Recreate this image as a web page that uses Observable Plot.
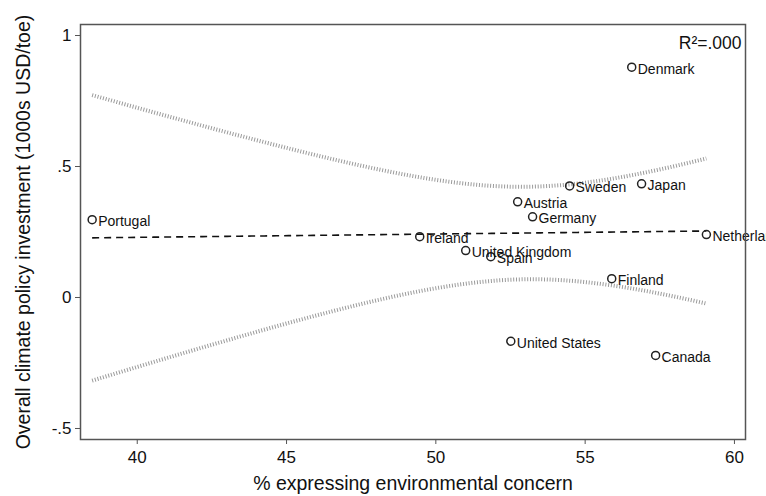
<!DOCTYPE html>
<html>
<head>
<meta charset="utf-8">
<script src="https://cdn.jsdelivr.net/npm/d3@7"></script>
<script src="https://cdn.jsdelivr.net/npm/@observablehq/plot@0.6"></script>
<style>
  html, body { margin: 0; padding: 0; background: #fff; }
  #chart { width: 766px; height: 496px; }
</style>
</head>
<body>
<div id="chart"></div>
<script>
const countries = ["Portugal","Denmark","Sweden","Japan","Austria","Germany","Ireland","United Kingdom","Spain","United States","Canada","Netherlands","Finland"];
const concern   = [38.49, 56.56, 54.48, 56.89, 52.74, 53.24, 49.46, 51.00, 51.84, 52.51, 57.36, 59.06, 55.89];
const investment= [0.297, 0.879, 0.426, 0.434, 0.365, 0.308, 0.232, 0.179, 0.156, -0.167, -0.221, 0.240, 0.072];
const xTicks = [40, 45, 50, 55, 60];
const yTicks = [-0.5, 0, 0.5, 1];
const yTickLabels = ["-.5", "0", ".5", "1"];
const r2Label = "R\u00B2=.000";

const data = countries.map((c, i) => ({country: c, x: concern[i], y: investment[i]}));

// OLS fit with 95% confidence band of the mean
const n = data.length;
const mx = d3.mean(concern), my = d3.mean(investment);
const sxx = d3.sum(concern, v => (v - mx) ** 2);
const sxy = d3.sum(data, d => (d.x - mx) * (d.y - my));
const b = sxy / sxx, a = my - b * mx;
const sse = d3.sum(data, d => (d.y - (a + b * d.x)) ** 2);
const s = Math.sqrt(sse / (n - 2));
const t = 2.201; // t(0.975, 11)
const [xmin, xmax] = d3.extent(concern);
const fit = d3.range(0, 101).map(k => {
  const x = xmin + (xmax - xmin) * k / 100;
  const yh = a + b * x;
  const se = s * Math.sqrt(1 / n + (x - mx) ** 2 / sxx);
  return {x, yh, lo: yh - t * se, hi: yh + t * se};
});

const font = "'Liberation Sans', Arial, Helvetica, sans-serif";

const plot = Plot.plot({
  width: 766,
  height: 496,
  marginLeft: 80,
  marginRight: 21,
  marginTop: 24,
  marginBottom: 57,
  style: {fontFamily: font, background: "#fff", color: "#111"},
  x: {domain: [38.10, 60.37]},
  y: {domain: [-0.542, 1.042]},
  marks: [
    Plot.line(fit, {x: "x", y: "hi", stroke: "#9a9a9a", strokeWidth: 4, strokeDasharray: "1,1.8", strokeLinecap: "butt"}),
    Plot.line(fit, {x: "x", y: "lo", stroke: "#9a9a9a", strokeWidth: 4, strokeDasharray: "1,1.8", strokeLinecap: "butt"}),
    Plot.line(fit, {x: "x", y: "yh", stroke: "#111", strokeWidth: 1.6, strokeDasharray: "7,5", strokeLinecap: "butt"}),
    Plot.dot(data, {x: "x", y: "y", r: 4, stroke: "#222", strokeWidth: 1.5, fill: "none"}),
    Plot.text(data, {x: "x", y: "y", text: "country", textAnchor: "start", dx: 6, dy: 2, fontSize: 14, fill: "#111"}),
    Plot.text([r2Label], {frameAnchor: "top-right", dx: -4, dy: 12, fontSize: 17.5, fill: "#111", text: d => d}),
    Plot.frame({stroke: "#555", strokeWidth: 1.5}),
    Plot.axisX({ticks: xTicks, tickSize: 5, tickPadding: 6, fontSize: 17, stroke: "#555", label: null}),
    Plot.axisX({ticks: [], tickSize: 0, fontSize: 19.5,
      label: "% expressing environmental concern", labelAnchor: "center", labelArrow: "none", labelOffset: 50}),
    Plot.axisY({ticks: yTicks, tickFormat: (d) => yTickLabels[yTicks.indexOf(d)], tickSize: 5, tickPadding: 4, fontSize: 17, stroke: "#555", label: null}),
    Plot.axisY({ticks: [], tickSize: 0, fontSize: 19.5,
      label: "Overall climate policy investment (1000s USD/toe)", labelAnchor: "center", labelArrow: "none", labelOffset: 64})
  ]
});
document.getElementById("chart").appendChild(plot);
</script>
</body>
</html>
